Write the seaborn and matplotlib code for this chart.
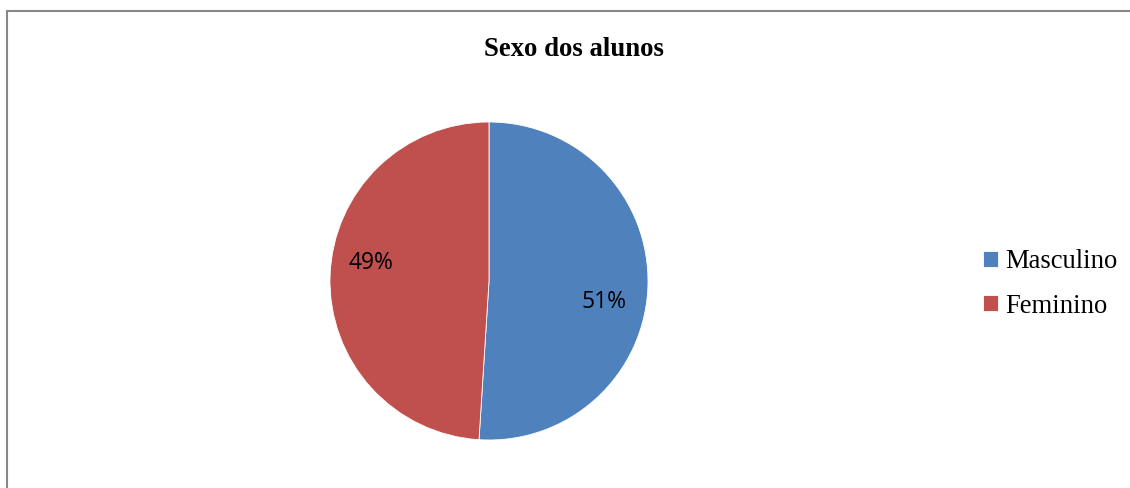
import matplotlib
matplotlib.use("Agg")
import matplotlib.pyplot as plt
import seaborn as sns
from matplotlib.patches import Rectangle

sns.set_theme(style="white")

title = "Sexo dos alunos"
categories = ["Masculino", "Feminino"]
values = [51, 49]
colors = ["#4F81BD", "#C0504D"]

W, H = 1130, 488
fig = plt.figure(figsize=(W / 100, H / 100), dpi=100)
fig.patch.set_facecolor("white")

# outer chart border (left & top visible)
fig.add_artist(Rectangle((6.5 / W, -0.1), 1.2, 1.1 - 11.5 / H,
                         transform=fig.transFigure, fill=False,
                         edgecolor="#878787", linewidth=1.5))

cx, cy, r = 489, 281, 159
ax = fig.add_axes([(cx - r) / W, (H - cy - r) / H, 2 * r / W, 2 * r / H])
wedges, texts, autotexts = ax.pie(
    values, colors=colors, startangle=90, counterclock=False,
    autopct="%1.0f%%", pctdistance=0.75,
    wedgeprops=dict(edgecolor="white", linewidth=0.6),
    textprops=dict(fontsize=16.5, family=["Open Sans", "DejaVu Sans"], color="black"),
)
ax.set_xlim(-1, 1)
ax.set_ylim(-1, 1)
ax.set_aspect("equal")
ax.axis("off")

# Excel-like label placement
autotexts[0].set_position((115 / r, -21 / r))
autotexts[1].set_position((-118 / r, 18 / r))

fig.text(574 / W, 1 - 49.5 / H, title, ha="center", va="center", color="black",
         fontsize=19.3, fontweight="bold", family=["Liberation Serif", "DejaVu Serif"])

leg = fig.legend(wedges, categories, loc="center left",
                 bbox_to_anchor=(983 / W, 1 - 284 / H), frameon=False,
                 prop=dict(family=["Liberation Serif", "DejaVu Serif"], size=19.2),
                 handlelength=0.55, handleheight=0.55, handletextpad=0.28,
                 labelspacing=0.72, borderpad=0, borderaxespad=0)
for t in leg.get_texts():
    t.set_color("black")

fig.savefig("out.png", dpi=100)
